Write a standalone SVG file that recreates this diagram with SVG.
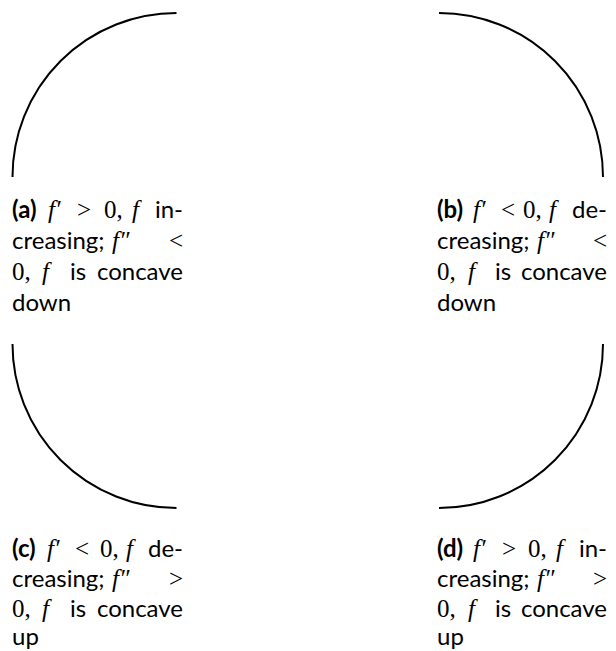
<svg xmlns="http://www.w3.org/2000/svg" width="616" height="651" viewBox="0 0 616 651">
<style>
.curve{fill:none;stroke:#000;stroke-width:2}
text{font-family:Lato,"Open Sans","Liberation Sans",sans-serif;font-size:24px;fill:#000}
.b{font-weight:bold}
.m{font-family:"Liberation Serif","DejaVu Serif",serif;font-size:25px}
.i{font-style:italic}
.e{text-anchor:end}
</style>
<rect width="616" height="651" fill="#fff"/>
<g id="panel-a">
<path class="curve" d="M12.5,177 A164,164 0 0 1 176.5,13"/>
<text x="12" y="218" class="b">(a)</text>
<text x="48" y="218" class="m i">f′</text>
<text x="77" y="218" class="m">&gt;</text>
<text x="104" y="218" class="m">0,</text>
<text x="132" y="218" class="m i">f</text>
<text x="183" y="218" class="e">in-</text>
<text x="12" y="249">creasing;</text>
<text x="112" y="249" class="m i">f″</text>
<text x="183" y="249" class="m e">&lt;</text>
<text x="12" y="280" class="m">0,</text>
<text x="42" y="280" class="m i">f</text>
<text x="70" y="280">is</text>
<text x="183" y="280" class="e">concave</text>
<text x="12" y="311">down</text>
</g>
<g id="panel-b">
<path class="curve" d="M439,13 A164,164 0 0 1 603,177"/>
<text x="437" y="218" class="b">(b)</text>
<text x="473" y="218" class="m i">f′</text>
<text x="501" y="218" class="m">&lt;</text>
<text x="523" y="218" class="m">0,</text>
<text x="549" y="218" class="m i">f</text>
<text x="607" y="218" class="e">de-</text>
<text x="437" y="249">creasing;</text>
<text x="537" y="249" class="m i">f″</text>
<text x="607" y="249" class="m e">&lt;</text>
<text x="437" y="280" class="m">0,</text>
<text x="468" y="280" class="m i">f</text>
<text x="495" y="280">is</text>
<text x="607" y="280" class="e">concave</text>
<text x="437" y="311">down</text>
</g>
<g id="panel-c">
<path class="curve" d="M12.5,344 A164,164 0 0 0 176.5,508"/>
<text x="12" y="557" class="b">(c)</text>
<text x="47" y="557" class="m i">f′</text>
<text x="75" y="557" class="m">&lt;</text>
<text x="100" y="557" class="m">0,</text>
<text x="126" y="557" class="m i">f</text>
<text x="183" y="557" class="e">de-</text>
<text x="12" y="587">creasing;</text>
<text x="112" y="587" class="m i">f″</text>
<text x="183" y="587" class="m e">&gt;</text>
<text x="12" y="617" class="m">0,</text>
<text x="42" y="617" class="m i">f</text>
<text x="70" y="617">is</text>
<text x="183" y="617" class="e">concave</text>
<text x="12" y="645">up</text>
</g>
<g id="panel-d">
<path class="curve" d="M439,508 A164,164 0 0 0 603,344"/>
<text x="437" y="557" class="b">(d)</text>
<text x="473" y="557" class="m i">f′</text>
<text x="502" y="557" class="m">&gt;</text>
<text x="528" y="557" class="m">0,</text>
<text x="556" y="557" class="m i">f</text>
<text x="607" y="557" class="e">in-</text>
<text x="437" y="587">creasing;</text>
<text x="537" y="587" class="m i">f″</text>
<text x="607" y="587" class="m e">&gt;</text>
<text x="437" y="617" class="m">0,</text>
<text x="468" y="617" class="m i">f</text>
<text x="495" y="617">is</text>
<text x="607" y="617" class="e">concave</text>
<text x="437" y="645">up</text>
</g>
<g id="connectors"></g>
</svg>
